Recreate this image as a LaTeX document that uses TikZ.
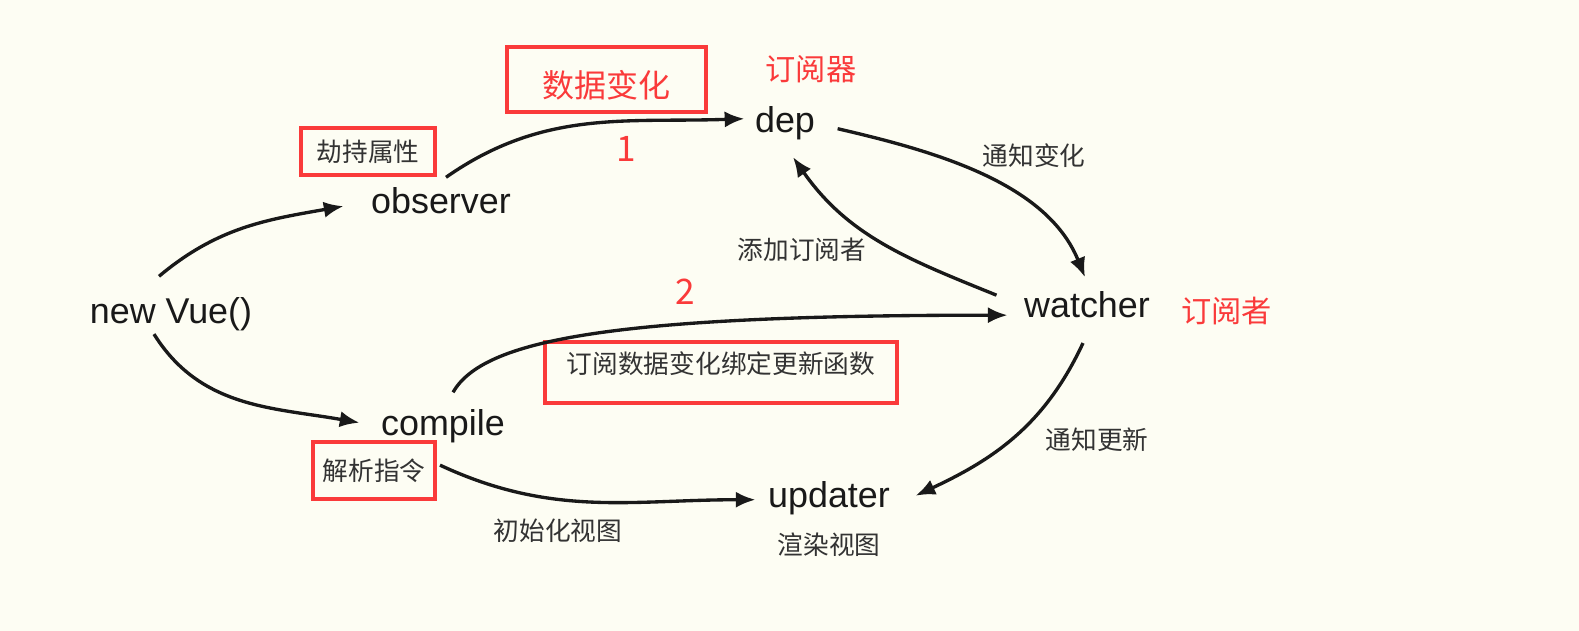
\documentclass[tikz,border=0pt]{standalone}
\usepackage{fontspec}
\setmainfont{Liberation Sans}
\newfontfamily\cjk{Noto Sans CJK SC}
\usetikzlibrary{arrows.meta,positioning}

\definecolor{paper}{RGB}{253,253,243}
\definecolor{markred}{RGB}{250,58,58}
\definecolor{inkgrey}{RGB}{51,51,51}

\tikzset{word/.style={inner sep=0pt,font=\fontsize{10.2}{12}\selectfont,text=black!90}}
\tikzset{note/.style={inner sep=0pt,font=\cjk\fontsize{7.3}{9}\selectfont,text=inkgrey,text height=6.4pt,text depth=0.9pt}}
\tikzset{redtext/.style={inner sep=0pt,font=\cjk\fontsize{8.6}{10}\selectfont,text=markred}}
\tikzset{rednum/.style={redtext,font=\cjk\fontsize{10}{12}\selectfont}}
\tikzset{redbox/.style={draw=markred,line width=1.15pt}}
\tikzset{flow/.style={draw,-{Latex[length=5.6pt,width=4.6pt]},line width=0.95pt,black!90}}

\begin{document}
\begin{tikzpicture}[x=0.01cm,y=0.01cm]
	\fill[paper] (0,0) rectangle (1579,-631);

	% main parts
	\node[word,anchor=base] (nv) at (171,-324) {new Vue()};
	\node[word,anchor=base] (obs) at (441,-214) {observer};
	\node[word,anchor=base] (cmp) at (443,-436) {compile};
	\node[word,anchor=base] (dep) at (785,-133) {dep};
	\node[word,anchor=base] (wat) at (1087,-318) {watcher};
	\node[word,anchor=base] (upd) at (829,-508) {updater};
        \node[redtext] (depnote) at (811,-69) {订阅器};
        \node[redtext,right=0.3cm of wat,yshift=-0.06cm] (watnote) {订阅者};
        \node[note,below=0.155cm of upd] (updnote) {渲染视图};

	% marked boxes
	\node[redbox,minimum width=1.99cm,minimum height=0.65cm,inner sep=0pt,
	      font=\cjk\fontsize{9.1}{11}\selectfont,text=markred,
	      text height=11.1pt,text depth=1.1pt] (change) at (606.5,-79.5) {数据变化};
	\node[note,redbox,minimum width=1.34cm,minimum height=0.47cm] (hijack) at (368,-151.5) {劫持属性};
	\node[note,redbox,minimum width=3.52cm,minimum height=0.61cm,text depth=5.7pt] (bind) at (721,-372.5) {订阅数据变化绑定更新函数};
	\node[note,redbox,minimum width=1.22cm,minimum height=0.57cm] (parse) at (374,-470.5) {解析指令};

	% arrow labels
	\node[rednum] (one) at (626,-149) {1};
	\node[rednum] (two) at (685,-292) {2};
	\node[note] (add) at (802,-250) {添加订阅者};
	\node[note] (notify) at (1034,-156) {通知变化};
	\node[note] (init) at (558,-531) {初始化视图};
	\node[note] (renew) at (1097,-440) {通知更新};

	% arrows
	    \path[flow] ([shift={(-12,21)}]nv.north) to[out=40,in=190] ([shift={(-27,-5)}]obs.west);
	    \path[flow] ([shift={(-17,-2)}]nv.south) to[out=-58,in=170] ([shift={(-21,4)}]cmp.west);
	    \path[flow] ([shift={(5,10)}]obs.north) to[out=35,in=182] ([shift={(-10,5)}]dep.west);
	    \path[flow] ([shift={(22,-5)}]dep.east) to[out=-13,in=112,looseness=0.9] ([shift={(-2,14)}]wat.north);
	    \path[flow] ([shift={(-27,10)}]wat.west) to[out=158,in=-55] ([shift={(8,-16)}]dep.south);
	    \path[flow] ([shift={(10,17)}]cmp.north) .. controls +(60:60) and +(180:400) .. ([shift={(-16,-10)}]wat.west);
	    \path[flow] ([shift={(-3,-21)}]cmp.south) to[out=-25,in=180] ([shift={(-12,-1)}]upd.west);
	    \path[flow] ([shift={(-4,-24)}]wat.south) to[out=-115,in=25] ([shift={(25,3)}]upd.east);

\end{tikzpicture}
\end{document}
